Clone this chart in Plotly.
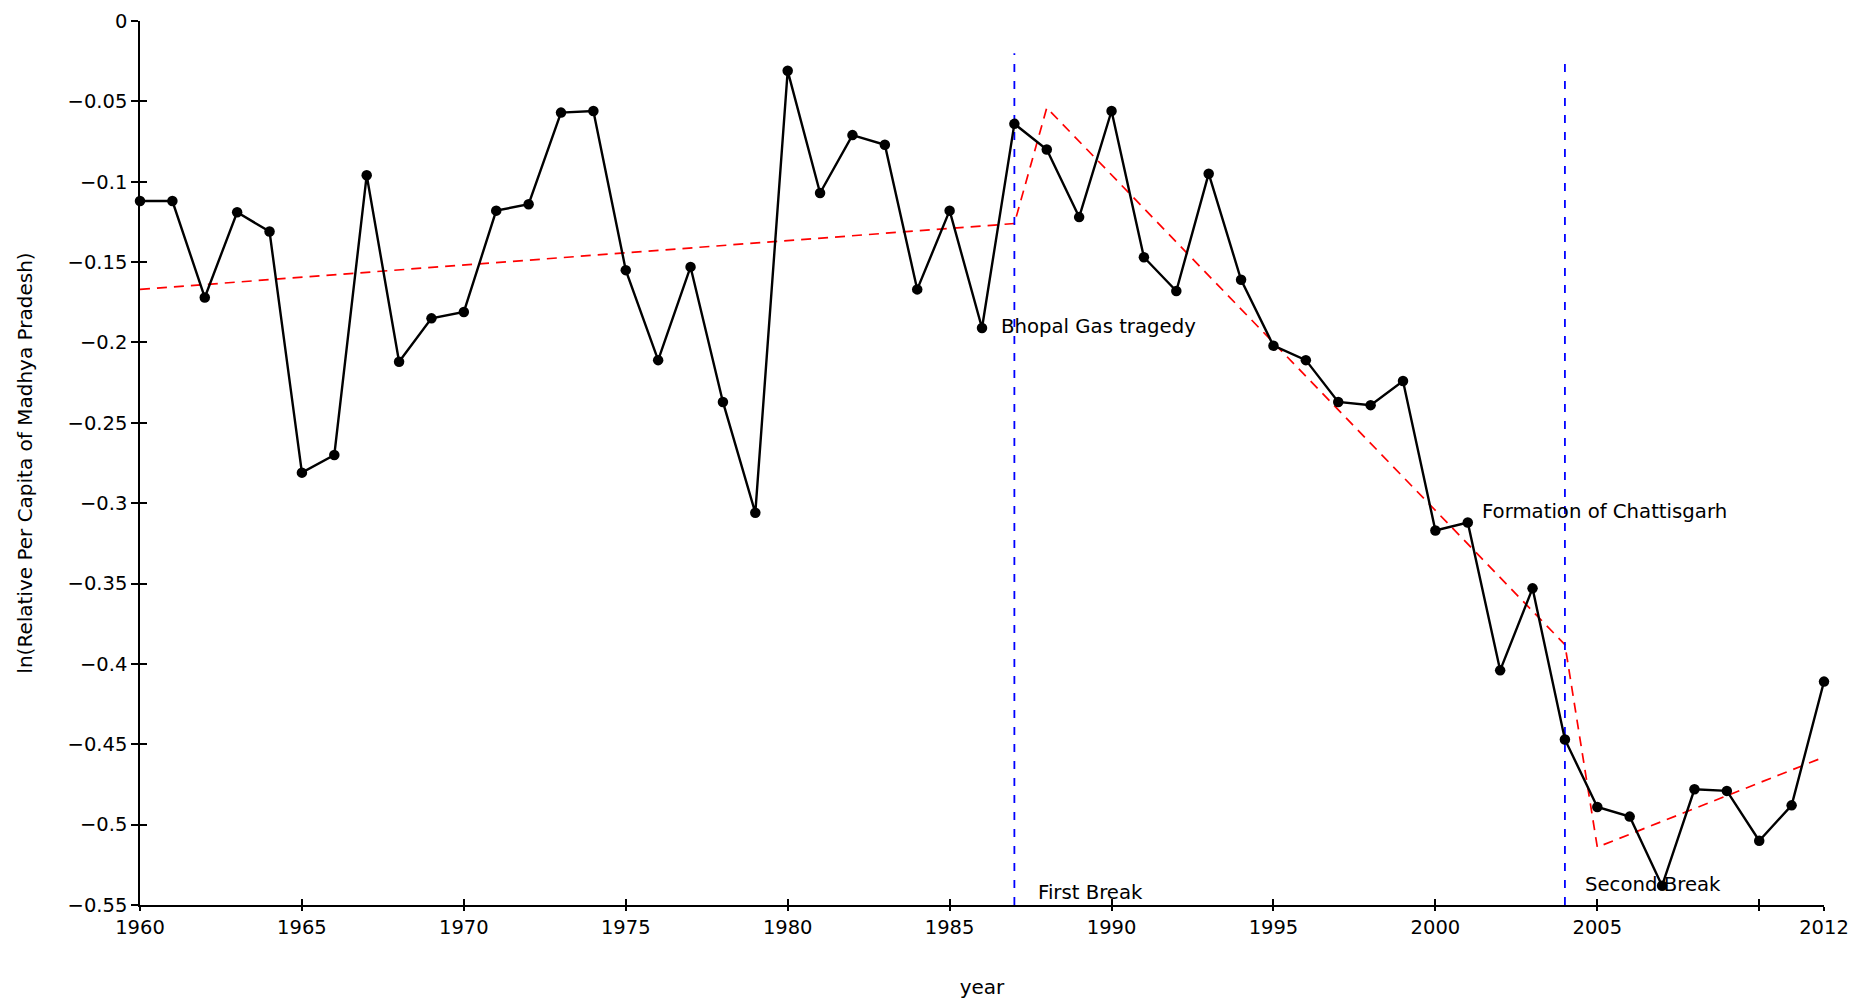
import plotly.graph_objects as go

# ---------------- data ----------------
years = list(range(1960, 2013))
ln_rel_pc = [
    -0.112, -0.112, -0.172, -0.119, -0.131, -0.281, -0.270, -0.096, -0.212, -0.185,
    -0.181, -0.118, -0.114, -0.057, -0.056, -0.155, -0.211, -0.153, -0.237, -0.306,
    -0.031, -0.107, -0.071, -0.077, -0.167, -0.118, -0.191, -0.064, -0.080, -0.122,
    -0.056, -0.147, -0.168, -0.095, -0.161, -0.202, -0.211, -0.237, -0.239, -0.224,
    -0.317, -0.312, -0.404, -0.353, -0.447, -0.489, -0.495, -0.538, -0.478, -0.479,
    -0.510, -0.488, -0.411,
]

trend_years = [1960, 1987, 1988, 2004, 2005, 2012]
trend_vals = [-0.167, -0.126, -0.054, -0.388, -0.514, -0.458]

break_years = [1987, 2004]
break_bottom = [-0.55, -0.55]
break_top = [-0.020, -0.026]
break_labels = ["First Break", "Second Break"]
break_label_x = [1987.66, 2004.55]
break_label_y = [-0.542, -0.5375]

event_labels = ["Bhopal Gas tragedy", "Formation of Chattisgarh"]
event_x = [1986.53, 2001.38]
event_y = [-0.190, -0.305]

x_tickvals = [1960, 1965, 1970, 1975, 1980, 1985, 1990, 1995, 2000, 2005, 2010, 2012]
x_ticktext = ["1960", "1965", "1970", "1975", "1980", "1985", "1990", "1995", "2000", "2005", "", "2012"]
y_tickvals = [0, -0.05, -0.1, -0.15, -0.2, -0.25, -0.3, -0.35, -0.4, -0.45, -0.5, -0.55]
y_ticktext = ["0", "\u22120.05", "\u22120.1", "\u22120.15", "\u22120.2", "\u22120.25", "\u22120.3",
              "\u22120.35", "\u22120.4", "\u22120.45", "\u22120.5", "\u22120.55"]

x_title = "year"
y_title = "ln(Relative Per Capita of Madhya Pradesh)"

FONT = "DejaVu Sans"

# ---------------- figure ----------------
fig = go.Figure()

# red piecewise trend
fig.add_trace(go.Scatter(
    x=trend_years, y=trend_vals, mode="lines",
    line=dict(color="#ff0000", width=1.7, dash="10px,7px"),
    hoverinfo="skip", showlegend=False, cliponaxis=False,
))

# blue break lines
for bx, b0, b1 in zip(break_years, break_bottom, break_top):
    fig.add_trace(go.Scatter(
        x=[bx, bx], y=[b0, b1], mode="lines",
        line=dict(color="#0000ff", width=1.8, dash="8px,9px"),
        hoverinfo="skip", showlegend=False, cliponaxis=False,
    ))

# main series
fig.add_trace(go.Scatter(
    x=years, y=ln_rel_pc, mode="lines+markers",
    line=dict(color="black", width=2.4),
    marker=dict(color="black", size=10.5),
    showlegend=False, cliponaxis=False,
))

# invisible trace for cross-tick overlay axes
fig.add_trace(go.Scatter(
    x=[years[0]], y=[ln_rel_pc[0]], xaxis="x2", yaxis="y2", mode="markers",
    marker=dict(opacity=0), hoverinfo="skip", showlegend=False,
))

annotations = []
for t, ax_, ay_ in zip(event_labels + break_labels, event_x + break_label_x, event_y + break_label_y):
    annotations.append(dict(
        x=ax_, y=ay_, xref="x", yref="y", text=t, showarrow=False,
        xanchor="left", yanchor="middle",
        font=dict(family=FONT, size=19.7, color="black"),
    ))

fig.update_layout(
    width=1854, height=1000,
    margin=dict(l=132, r=38, t=13, b=103, autoexpand=False),
    paper_bgcolor="white", plot_bgcolor="white",
    font=dict(family=FONT, size=19, color="black"),
    annotations=annotations,
    xaxis=dict(
        range=[1960, 2012], tickmode="array", tickvals=x_tickvals, ticktext=x_ticktext,
        ticks="outside", ticklen=4, tickwidth=1.5, tickcolor="black", automargin=False,
        showline=True, linecolor="black", linewidth=1.5, showgrid=False, zeroline=False,
        tickfont=dict(family=FONT, size=19.5, color="black"),
        title=dict(text=x_title, standoff=42, font=dict(family=FONT, size=20)),
    ),
    yaxis=dict(
        range=[-0.55, 0], tickmode="array", tickvals=y_tickvals, ticktext=y_ticktext,
        ticks="outside", ticklen=7, tickwidth=1.5, tickcolor="black", automargin=False,
        showline=True, linecolor="black", linewidth=1.5, showgrid=False, zeroline=False,
        tickfont=dict(family=FONT, size=19.5, color="black"),
        title=dict(text=y_title, standoff=30, font=dict(family=FONT, size=20)),
    ),
    xaxis2=dict(
        overlaying="x", matches="x", anchor="y2", tickmode="array", tickvals=x_tickvals,
        ticks="inside", ticklen=6, tickwidth=1.5, tickcolor="black", automargin=False,
        showticklabels=False, showline=False, showgrid=False, zeroline=False,
    ),
    yaxis2=dict(
        overlaying="y", matches="y", anchor="x2", side="left", tickmode="array", tickvals=y_tickvals,
        ticks="inside", ticklen=7, tickwidth=1.5, tickcolor="black", automargin=False,
        showticklabels=False, showline=False, showgrid=False, zeroline=False,
    ),
)

fig.write_html("out.html")
